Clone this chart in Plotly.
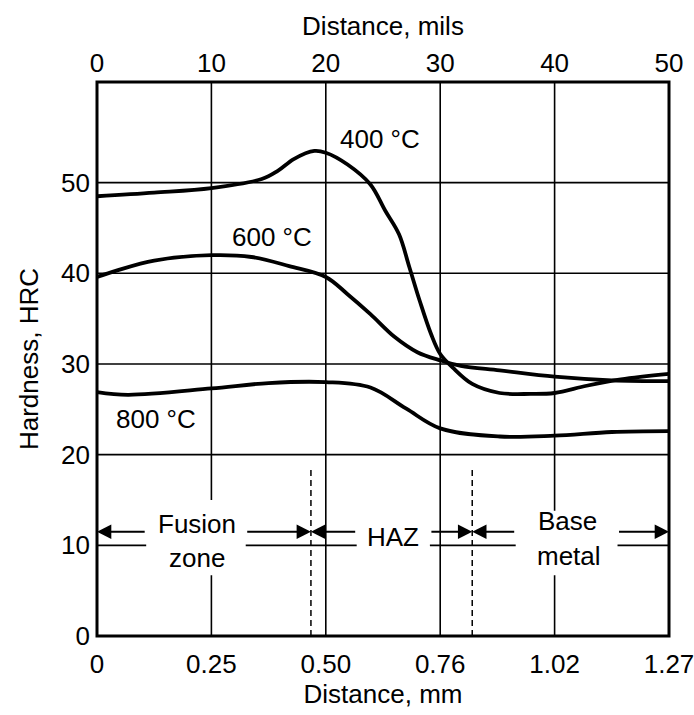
import plotly.graph_objects as go

# ---- data (x in mils, hardness in HRC) ----
x400 = [0, 5, 10, 14.4, 15.8, 17.2, 19.0, 20, 21.9, 23.9, 25.2, 26.4, 27.3, 28.2, 29.2, 30, 31.1, 32.8, 35.2, 37.9, 40, 42.8, 45.8, 50]
y400 = [48.5, 48.9, 49.4, 50.4, 51.3, 52.6, 53.5, 53.3, 52, 49.8, 46.9, 44.3, 40.7, 37, 33.3, 31.1, 29.6, 27.8, 26.8, 26.7, 26.8, 27.6, 28.3, 28.9]
x600 = [0, 1.7, 5, 10, 13.5, 16.8, 20, 21.9, 23.9, 26, 28, 30, 31.8, 35.2, 40, 45, 50]
y600 = [39.6, 40.3, 41.4, 42, 41.8, 40.8, 39.6, 37.7, 35.5, 33, 31.3, 30.4, 29.8, 29.3, 28.6, 28.2, 28.1]
x800 = [0, 2.7, 10, 15, 20, 23.9, 27, 30, 35.2, 40, 45, 50]
y800 = [26.9, 26.6, 27.3, 27.9, 28, 27.4, 25.1, 22.9, 22, 22.1, 22.5, 22.6]

mils_ticks = [0, 10, 20, 30, 40, 50]
mm_labels = ["0", "0.25", "0.50", "0.76", "1.02", "1.27"]
hrc_ticks = [0, 10, 20, 30, 40, 50]

series_labels = ["400 °C", "600 °C", "800 °C"]
label_pos = [(24.7, 54.8), (15.3, 44.0), (5.2, 23.9)]

zone_boundaries = [18.7, 32.8]   # dashed lines (mils)
zone_text = [("Fusion", 8.7, 12.3), ("zone", 8.7, 8.6), ("HAZ", 25.9, 10.9), ("Base", 41.1, 12.7), ("metal", 41.3, 8.8)]
arrow_y = 11.5
# arrows: (tail, head) in mils
arrows = [(4.3, 0), (13.0, 18.7), (22.7, 18.7), (29.1, 32.8), (36.6, 32.8), (45.5, 50)]
# y=10 line segments
ten_segments = [(0, 4.3), (13.0, 22.7), (29.1, 36.6), (45.5, 50)]

FONT = "Liberation Sans, Arial, Helvetica, sans-serif"
FS = 26

fig = go.Figure()
for xs, ys in [(x400, y400), (x600, y600), (x800, y800)]:
    fig.add_trace(go.Scatter(x=xs, y=ys, mode="lines", line=dict(color="black", width=3.8, shape="spline", smoothing=1.0),
                             showlegend=False, hoverinfo="skip"))
# dummy trace for top axis
fig.add_trace(go.Scatter(x=[0, 50], y=[0, 0], xaxis="x2", mode="lines", line=dict(width=0), showlegend=False, hoverinfo="skip"))

shapes = []
gl = dict(color="black", width=1.6)
# horizontal gridlines 20..50
for v in hrc_ticks[2:]:
    shapes.append(dict(type="line", xref="x", yref="y", x0=0, x1=50, y0=v, y1=v, line=gl, layer="below"))
for a, b in ten_segments:
    shapes.append(dict(type="line", xref="x", yref="y", x0=a, x1=b, y0=10, y1=10, line=gl, layer="below"))
# vertical gridlines
for v in mils_ticks[1:-1]:
    if v == 10:
        segs = [(0, 6.7), (15.0, 62)]
    elif v == 40:
        segs = [(0, 6.7), (13.8, 62)]
    else:
        segs = [(0, 62)]
    for a, b in segs:
        shapes.append(dict(type="line", xref="x", yref="y", x0=v, x1=v, y0=a, y1=b, line=gl, layer="below"))
# dashed zone boundaries
for v in zone_boundaries:
    shapes.append(dict(type="line", xref="x", yref="y", x0=v, x1=v, y0=0, y1=18.3,
                       line=dict(color="black", width=1.5, dash="6px,4px")))
# frame
shapes.append(dict(type="rect", xref="paper", yref="paper", x0=0, x1=1, y0=0, y1=1, line=dict(color="black", width=3)))

annotations = []
for (t, h) in arrows:
    annotations.append(dict(x=h, y=arrow_y, ax=t, ay=arrow_y, xref="x", yref="y", axref="x", ayref="y",
                            text="", showarrow=True, arrowhead=2, arrowsize=1.3, arrowwidth=2.2, arrowcolor="black"))
for txt, x, y in zone_text:
    annotations.append(dict(x=x, y=y, xref="x", yref="y", text=txt, showarrow=False,
                            font=dict(family=FONT, size=FS, color="black")))
for txt, (x, y) in zip(series_labels, label_pos):
    annotations.append(dict(x=x, y=y, xref="x", yref="y", text=txt, showarrow=False,
                            font=dict(family=FONT, size=FS, color="black")))

fig.update_layout(
    width=694, height=715,
    margin=dict(l=97, r=25, t=82, b=79),
    paper_bgcolor="white", plot_bgcolor="white",
    font=dict(family=FONT, size=FS, color="black"),
    shapes=shapes, annotations=annotations,
    xaxis=dict(range=[0, 50], tickvals=mils_ticks, ticktext=mm_labels, showgrid=False, zeroline=False,
               ticks="", ticklabelstandoff=10, tickfont=dict(size=FS), automargin=False, ticklabeloverflow="allow",
               title=dict(text="Distance, mm", font=dict(size=FS), standoff=6)),
    xaxis2=dict(range=[0, 50], overlaying="x", side="top", tickvals=mils_ticks, showgrid=False, zeroline=False,
                ticks="", ticklabelstandoff=4, tickfont=dict(size=FS), automargin=False, ticklabeloverflow="allow",
                title=dict(text="Distance, mils", font=dict(size=FS), standoff=4)),
    yaxis=dict(range=[0, 61.1], tickvals=hrc_ticks, showgrid=False, zeroline=False, ticks="",
               ticklabelstandoff=6, tickfont=dict(size=FS), automargin=False,
               title=dict(text="Hardness, HRC", font=dict(size=FS), standoff=14)),
)

# remove the default page margin so the figure fills the window exactly
fig.write_html("out.html", config={"displayModeBar": False},
               post_script="document.body.style.margin='0px';document.documentElement.style.overflow='hidden';")
